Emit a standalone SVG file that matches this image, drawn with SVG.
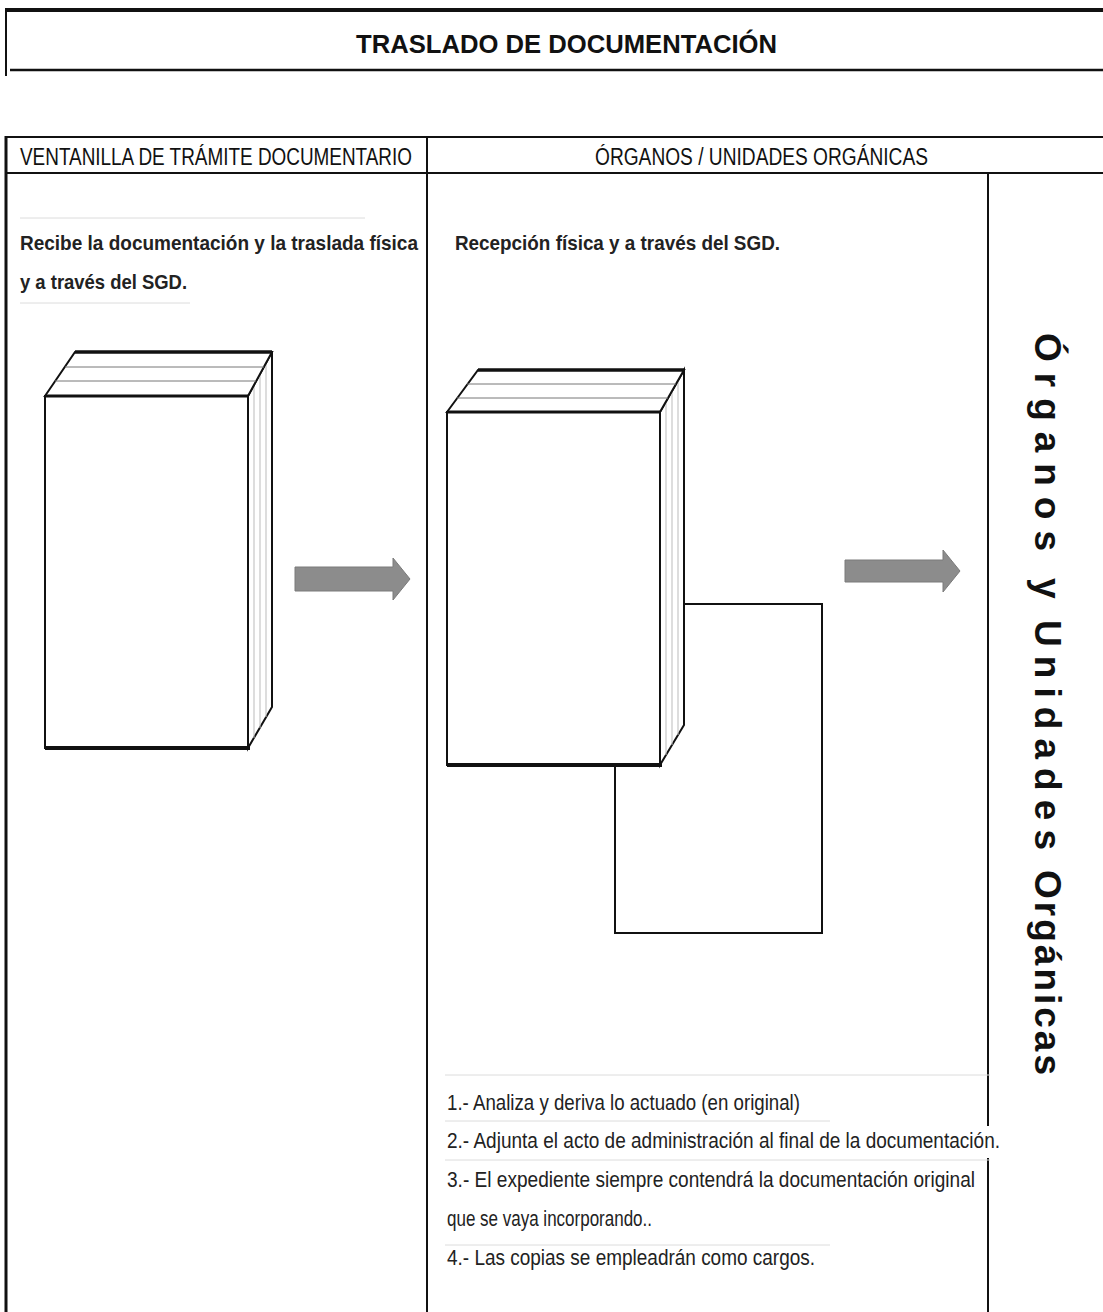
<svg xmlns="http://www.w3.org/2000/svg" width="1103" height="1312" viewBox="0 0 1103 1312">
<style>
.ln{stroke:#111;fill:none}
.faint{stroke:#dcdcdc;stroke-width:1;fill:none}
.title{font-family:"Liberation Sans Narrow","Liberation Sans",Arial,sans-serif;font-weight:bold;font-size:25px;fill:#111}
.hdr{font-family:"Liberation Sans Narrow","Liberation Sans",Arial,sans-serif;font-size:23px;fill:#111}
.body{font-family:"Liberation Sans Narrow","Liberation Sans",Arial,sans-serif;font-weight:bold;font-size:21px;fill:#222}
.item{font-family:"Liberation Sans Narrow","Liberation Sans",Arial,sans-serif;font-size:22px;fill:#222}
.vert{font-family:"Liberation Sans",Arial,sans-serif;font-weight:bold;font-size:37px;fill:#111}
.face{fill:#fff;stroke:#111;stroke-width:2;stroke-linejoin:miter}
.page{stroke:#777;stroke-width:1;fill:none}
.side{stroke:#bbb;stroke-width:1;fill:none}
.arrow{fill:#8c8c8c;stroke:#7a7a7a;stroke-width:1}
</style>
<rect width="1103" height="1312" fill="#fff"/>

<g id="title-frame">
  <line class="ln" x1="5" y1="10" x2="1103" y2="10" stroke-width="4"/>
  <line class="ln" x1="6" y1="8" x2="6" y2="76" stroke-width="2"/>
  <line class="ln" x1="10" y1="70" x2="1103" y2="70" stroke-width="2.5"/>
  <text class="title" x="356" y="53" textLength="421" lengthAdjust="spacingAndGlyphs">TRASLADO DE  DOCUMENTACIÓN</text>
</g>

<g id="table">
  <line class="ln" x1="5" y1="137" x2="1103" y2="137" stroke-width="2"/>
  <line class="ln" x1="5" y1="173" x2="1103" y2="173" stroke-width="2"/>
  <line class="ln" x1="6" y1="136" x2="6" y2="1312" stroke-width="3"/>
  <line class="ln" x1="427" y1="137" x2="427" y2="1312" stroke-width="2"/>
  <line class="ln" x1="988" y1="173" x2="988" y2="1312" stroke-width="2"/>
  <text class="hdr" x="20" y="165" textLength="392" lengthAdjust="spacingAndGlyphs">VENTANILLA DE TRÁMITE DOCUMENTARIO</text>
  <text class="hdr" x="595" y="165" textLength="333" lengthAdjust="spacingAndGlyphs">ÓRGANOS / UNIDADES ORGÁNICAS</text>
</g>

<g id="faint-lines">
  <line class="faint" x1="20" y1="218" x2="365" y2="218"/>
  <line class="faint" x1="20" y1="303" x2="190" y2="303"/>
  <line class="faint" x1="445" y1="1075" x2="990" y2="1075"/>
  <line class="faint" x1="445" y1="1121" x2="830" y2="1121"/>
  <line class="faint" x1="445" y1="1160" x2="990" y2="1160"/>
  <line class="faint" x1="445" y1="1245" x2="830" y2="1245"/>
</g>

<g id="lane1-text">
  <text class="body" x="20" y="250" textLength="398" lengthAdjust="spacingAndGlyphs">Recibe la documentación y la  traslada física</text>
  <text class="body" x="20" y="289" textLength="167" lengthAdjust="spacingAndGlyphs">y a través del SGD.</text>
</g>

<g id="lane2-text">
  <text class="body" x="455" y="250" textLength="325" lengthAdjust="spacingAndGlyphs">Recepción física y a través del SGD.</text>
</g>

<g id="doc-left">
  <polygon class="face" points="248,396 272,352 272,707 248,748"/>
  <line class="side" x1="254" y1="386" x2="254" y2="738"/>
  <line class="side" x1="260" y1="375" x2="260" y2="728"/>
  <line class="side" x1="266" y1="364" x2="266" y2="717"/>
  <polygon class="face" points="45,396 75,352 272,352 248,396"/>
  <line class="page" x1="65" y1="367" x2="264" y2="367"/>
  <line class="page" x1="55" y1="381" x2="256" y2="381"/>
  <line class="ln" x1="75" y1="352" x2="272" y2="352" stroke-width="3.5"/>
  <rect class="face" x="45" y="396" width="203" height="352" stroke-width="2.5"/>
  <line class="ln" x1="45" y1="748" x2="250" y2="748" stroke-width="4"/>
  <line class="ln" x1="45" y1="396" x2="248" y2="396" stroke-width="3"/>
</g>

<g id="doc-right">
  <rect class="face" x="615" y="604" width="207" height="329" stroke-width="2.5"/>
  <polygon class="face" points="660,412 684,370 684,725 660,765"/>
  <line class="side" x1="666" y1="402" x2="666" y2="755"/>
  <line class="side" x1="672" y1="391" x2="672" y2="745"/>
  <line class="side" x1="678" y1="381" x2="678" y2="735"/>
  <polygon class="face" points="447,412 478,370 684,370 660,412"/>
  <line class="page" x1="467" y1="384" x2="676" y2="384"/>
  <line class="page" x1="457" y1="398" x2="668" y2="398"/>
  <line class="ln" x1="478" y1="370" x2="684" y2="370" stroke-width="3.5"/>
  <rect class="face" x="447" y="412" width="213" height="353" stroke-width="2.5"/>
  <line class="ln" x1="447" y1="765" x2="662" y2="765" stroke-width="4"/>
  <line class="ln" x1="447" y1="412" x2="660" y2="412" stroke-width="3"/>
</g>

<g id="connectors">
  <polygon class="arrow" points="295,567 393,567 393,558 410,579 393,600 393,591 295,591"/>
  <polygon class="arrow" points="845,560 943,560 943,550 960,571 943,592 943,582 845,582"/>
</g>

<g id="lane2-list">
  <rect x="983" y="1126" width="20" height="32" fill="#fff"/>
  <text class="item" x="447" y="1110" textLength="353" lengthAdjust="spacingAndGlyphs">1.- Analiza y deriva lo actuado (en original)</text>
  <text class="item" x="447" y="1148" textLength="553" lengthAdjust="spacingAndGlyphs">2.- Adjunta el acto de administración al final de la documentación.</text>
  <text class="item" x="447" y="1187" textLength="528" lengthAdjust="spacingAndGlyphs">3.- El expediente siempre contendrá la documentación original</text>
  <text class="item" x="447" y="1226" textLength="205" lengthAdjust="spacingAndGlyphs">que se vaya incorporando..</text>
  <text class="item" x="447" y="1265" textLength="368" lengthAdjust="spacingAndGlyphs">4.- Las copias se empleadrán como cargos.</text>
</g>

<g id="lane3-label">
  <text class="vert" transform="translate(1035,333) rotate(90)" x="0" y="0" textLength="218" lengthAdjust="spacing">Órganos</text>
  <text class="vert" transform="translate(1035,578) rotate(90)" x="0" y="0">y</text>
  <text class="vert" transform="translate(1035,620) rotate(90)" x="0" y="0" textLength="230" lengthAdjust="spacing">Unidades</text>
  <text class="vert" transform="translate(1035,870) rotate(90)" x="0" y="0" textLength="205" lengthAdjust="spacing">Orgánicas</text>
</g>
</svg>
